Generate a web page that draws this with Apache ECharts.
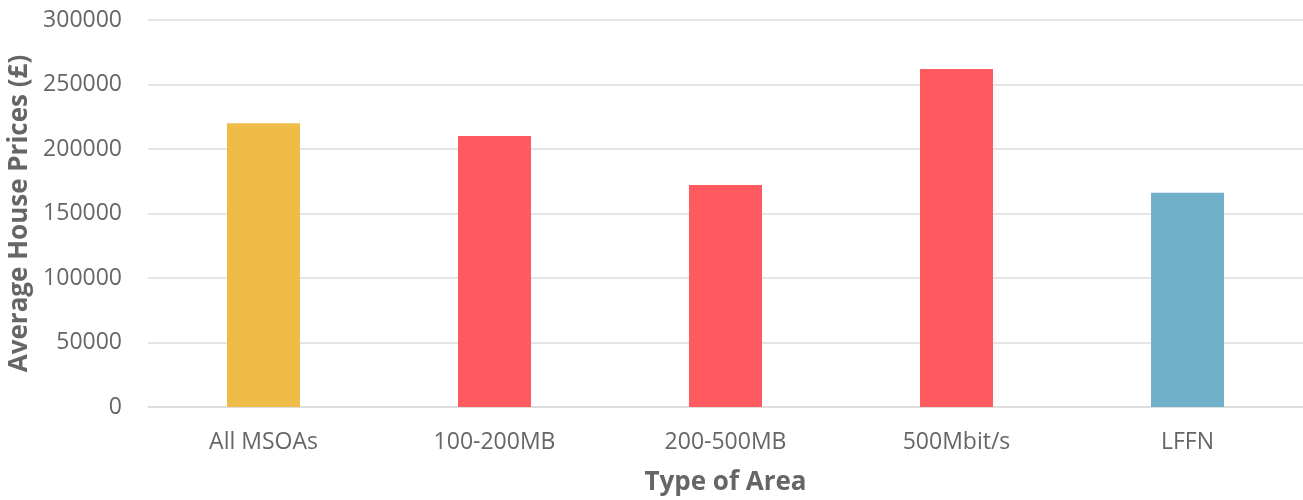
<!DOCTYPE html>
<html>
<head>
<meta charset="utf-8">
<script src="https://cdn.jsdelivr.net/npm/echarts@6/dist/echarts.min.js"></script>
<style>
  html, body { margin: 0; padding: 0; background: #ffffff; }
  #chart { width: 1303px; height: 500px; }
</style>
</head>
<body>
<div id="chart"></div>
<script>
// Average house price by broadband type of area
const categories = ['All MSOAs', '100-200MB', '200-500MB', '500Mbit/s', 'LFFN'];
const prices = [220000, 210000, 172000, 262000, 166000];
const barColors = ['#F0BC48', '#FF5A5F', '#FF5A5F', '#FF5A5F', '#70B0C8'];
const yTicks = { min: 0, max: 300000, interval: 50000 };

const textColor = '#666666';
const gridColor = '#dcdcdc';
const fontFamily = '"Open Sans", "DejaVu Sans", sans-serif';

const chart = echarts.init(document.getElementById('chart'), null, { renderer: 'canvas' });

chart.setOption({
  backgroundColor: '#ffffff',
  animation: false,
  grid: { left: 148, right: 0, top: 20, bottom: 93, containLabel: false, outerBoundsMode: 'none' },
  xAxis: {
    type: 'category',
    data: categories,
    name: 'Type of Area',
    nameLocation: 'middle',
    nameGap: 63,
    nameTextStyle: { color: textColor, fontSize: 26, fontWeight: 'bold', fontFamily: fontFamily },
    axisLine: { show: true, lineStyle: { color: gridColor, width: 1.5 } },
    axisTick: { show: false },
    axisLabel: { color: textColor, fontSize: 23, fontFamily: fontFamily, margin: 24 }
  },
  yAxis: {
    type: 'value',
    min: yTicks.min,
    max: yTicks.max,
    interval: yTicks.interval,
    name: 'Average House Prices (£)',
    nameLocation: 'middle',
    nameGap: 114,
    nameTextStyle: { color: textColor, fontSize: 26, fontWeight: 'bold', fontFamily: fontFamily },
    axisLine: { show: false },
    axisTick: { show: false },
    axisLabel: {
      color: textColor, fontSize: 23, fontFamily: fontFamily, margin: 26,
      formatter: (v) => String(v)
    },
    splitLine: { show: true, lineStyle: { color: gridColor, width: 1.5 } }
  },
  series: [{
    type: 'bar',
    barWidth: '31.6%',
    data: prices.map((v, i) => ({ value: v, itemStyle: { color: barColors[i] } }))
  }]
});
</script>
</body>
</html>
